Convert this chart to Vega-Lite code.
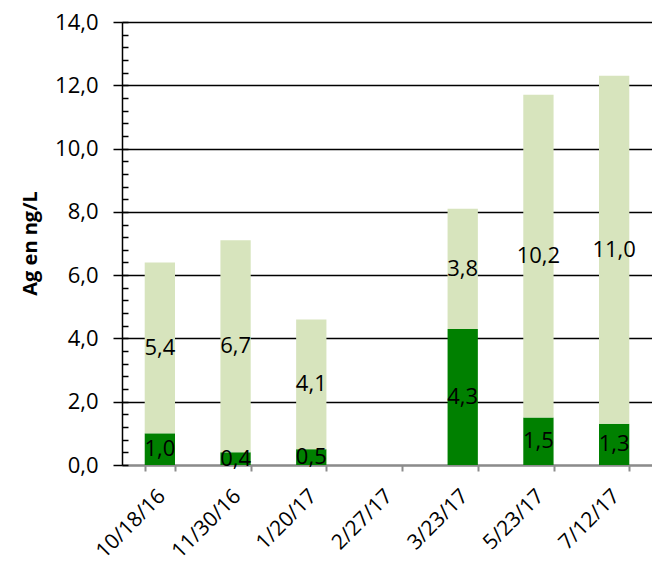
{
  "$schema": "https://vega.github.io/schema/vega-lite/v6.json",
  "autosize": "none",
  "width": 530,
  "height": 443,
  "padding": {"left": 122, "top": 22, "right": 0, "bottom": 105},
  "background": "white",
  "config": {
    "locale": {"number": {"decimal": ",", "thousands": ".", "grouping": [3], "currency": ["", " €"]}},
    "view": {"stroke": null},
    "font": "Open Sans"
  },
  "data": {
    "values": [
      {"date": "10/18/16", "part": "a", "order": 1, "value": 1.0},
      {"date": "10/18/16", "part": "b", "order": 2, "value": 5.4},
      {"date": "11/30/16", "part": "a", "order": 1, "value": 0.4},
      {"date": "11/30/16", "part": "b", "order": 2, "value": 6.7},
      {"date": "1/20/17", "part": "a", "order": 1, "value": 0.5},
      {"date": "1/20/17", "part": "b", "order": 2, "value": 4.1},
      {"date": "3/23/17", "part": "a", "order": 1, "value": 4.3},
      {"date": "3/23/17", "part": "b", "order": 2, "value": 3.8},
      {"date": "5/23/17", "part": "a", "order": 1, "value": 1.5},
      {"date": "5/23/17", "part": "b", "order": 2, "value": 10.2},
      {"date": "7/12/17", "part": "a", "order": 1, "value": 1.3},
      {"date": "7/12/17", "part": "b", "order": 2, "value": 11.0}
    ]
  },
  "transform": [
    {"stack": "value", "groupby": ["date"], "sort": [{"field": "order"}], "as": ["v0", "v1"]},
    {"calculate": "(datum.v0 + datum.v1) / 2", "as": "mid"}
  ],
  "encoding": {
    "x": {
      "field": "date", "type": "nominal",
      "scale": {"domain": ["10/18/16", "11/30/16", "1/20/17", "2/27/17", "3/23/17", "5/23/17", "7/12/17"], "paddingInner": 0.6, "paddingOuter": 0.3},
      "axis": {
        "title": null, "labelAngle": -45, "labelFontSize": 21, "labelColor": "black",
        "domainColor": "#8c8c8c", "domainWidth": 2, "tickColor": "#8c8c8c", "tickWidth": 2, "tickSize": 6,
        "tickBand": "extent", "labelPadding": 14, "labelOffset": -6, "grid": false
      }
    }
  },
  "layer": [
    {
      "mark": {"type": "bar"},
      "encoding": {
        "y": {
          "field": "v0", "type": "quantitative",
          "scale": {"domain": [0, 14], "nice": false},
          "axis": {
            "title": "Ag  en ng/L", "titleFontSize": 20, "titleFontWeight": "bold", "titleColor": "black",
            "titleX": -92, "titleY": 221, "titleAngle": -90, "titleBaseline": "middle", "titleAlign": "center",
            "values": [0, 2, 4, 6, 8, 10, 12, 14], "format": ".1f",
            "labelFontSize": 22, "labelColor": "black", "labelPadding": 15,
            "domainColor": "black", "domainWidth": 1.5, "tickColor": "black", "tickWidth": 1.5, "tickSize": 9,
            "grid": true, "gridColor": "black", "gridWidth": 1.5, "gridOpacity": 1
          }
        },
        "y2": {"field": "v1"},
        "color": {
          "field": "part", "type": "nominal",
          "scale": {"domain": ["a", "b"], "range": ["#008000", "#d7e4bd"]},
          "legend": null
        }
      }
    },
    {
      "mark": {"type": "text", "fontSize": 22, "color": "black", "baseline": "middle"},
      "encoding": {
        "y": {
          "field": "mid", "type": "quantitative",
          "axis": {
            "orient": "left", "title": null, "labels": false, "domain": false, "grid": false,
            "values": [0, 0.4, 0.8, 1.2, 1.6, 2, 2.4, 2.8, 3.2, 3.6, 4, 4.4, 4.8, 5.2, 5.6, 6, 6.4, 6.8, 7.2, 7.6, 8, 8.4, 8.8, 9.2, 9.6, 10, 10.4, 10.8, 11.2, 11.6, 12, 12.4, 12.8, 13.2, 13.6, 14],
            "tickSize": -6, "tickColor": "black", "tickWidth": 1.5
          }
        },
        "text": {"field": "value", "type": "quantitative", "format": ".1f"}
      }
    }
  ],
  "resolve": {"axis": {"y": "independent"}}
}
